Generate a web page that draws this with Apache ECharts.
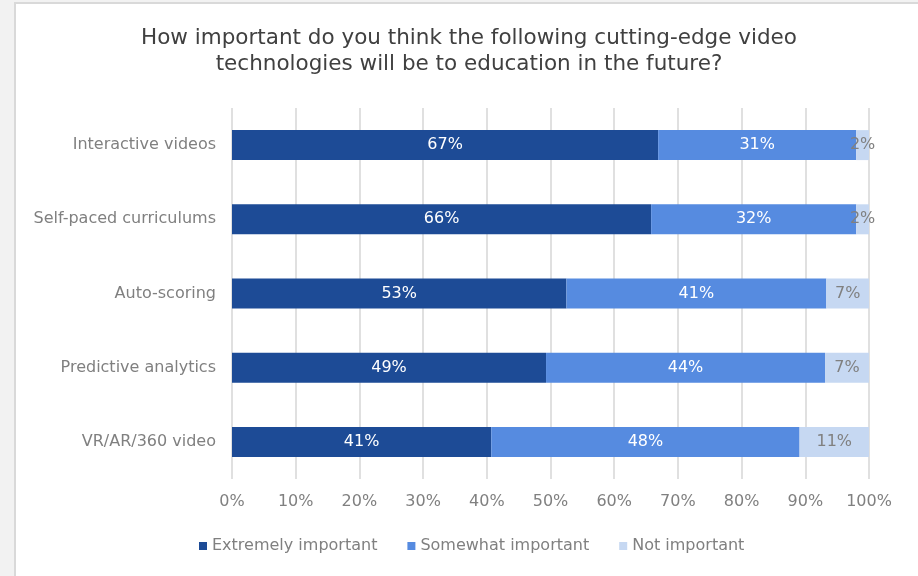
<!DOCTYPE html>
<html>
<head>
<meta charset="utf-8">
<script src="https://cdn.jsdelivr.net/npm/echarts@6/dist/echarts.min.js"></script>
<style>
html,body{margin:0;padding:0;background:#f2f2f2;}
#chart{width:918px;height:576px;}
</style>
</head>
<body>
<div id="chart"></div>
<script>
const titleText = "How important do you think the following cutting-edge video\ntechnologies will be to education in the future?";
const categories = ["Interactive videos", "Self-paced curriculums", "Auto-scoring", "Predictive analytics", "VR/AR/360 video"];
const seriesNames = ["Extremely important", "Somewhat important", "Not important"];
const extremely = [66.9, 65.8, 52.5, 49.3, 40.7];
const somewhat = [31.1, 32.2, 40.8, 43.8, 48.4];
const notImportant = [2.0, 2.0, 6.7, 6.9, 10.9];
const xTicks = [0, 10, 20, 30, 40, 50, 60, 70, 80, 90, 100];

const colors = ["#1d4b96", "#568be0", "#c6d8f2"];
const labelColors = ["#ffffff", "#ffffff", "#808080"];
const FONT = "DejaVu Sans";

const chart = echarts.init(document.getElementById('chart'));
const seriesData = [extremely, somewhat, notImportant];

chart.setOption({
  animation: false,
  textStyle: { fontFamily: FONT },
  graphic: [
    { type: 'rect', z: -10, silent: true, shape: { x: 15, y: 3, width: 920, height: 590 },
      style: { fill: '#ffffff', stroke: '#d9d9d9', lineWidth: 2 } },
    { type: 'text', silent: true, x: 469, y: 51,
      style: { text: titleText, align: 'center', verticalAlign: 'middle',
               font: '21.5px "DejaVu Sans"', fill: '#404040', lineHeight: 26 } }
  ],
  legend: {
    bottom: 22,
    left: 199,
    padding: 0,
    itemWidth: 8,
    itemHeight: 8,
    itemGap: 30,
    icon: 'rect',
    data: seriesNames,
    textStyle: { fontFamily: FONT, fontSize: 16, color: '#808080' }
  },
  grid: { left: 232, right: 49, top: 108, bottom: 97, containLabel: false },
  xAxis: {
    type: 'value',
    min: 0, max: 100, interval: 10,
    axisLine: { show: false },
    axisTick: { show: false },
    splitLine: { show: true, lineStyle: { color: '#e0e0e0', width: 2 } },
    axisLabel: {
      margin: 15,
      fontFamily: FONT, fontSize: 16, color: '#808080',
      formatter: v => xTicks.includes(v) ? v + '%' : ''
    }
  },
  yAxis: {
    type: 'category',
    inverse: true,
    data: categories,
    axisLine: { show: false },
    axisTick: { show: false },
    axisLabel: { margin: 16, fontFamily: FONT, fontSize: 16, color: '#808080' }
  },
  series: seriesNames.map((name, i) => ({
    name,
    type: 'bar',
    stack: 'total',
    barWidth: 30,
    itemStyle: { color: colors[i] },
    label: {
      show: true,
      position: 'inside',
      fontFamily: FONT,
      fontSize: 16,
      color: labelColors[i],
      formatter: p => Math.round(p.value) + '%'
    },
    labelLayout: { hideOverlap: false },
    data: seriesData[i]
  }))
});
</script>
</body>
</html>
